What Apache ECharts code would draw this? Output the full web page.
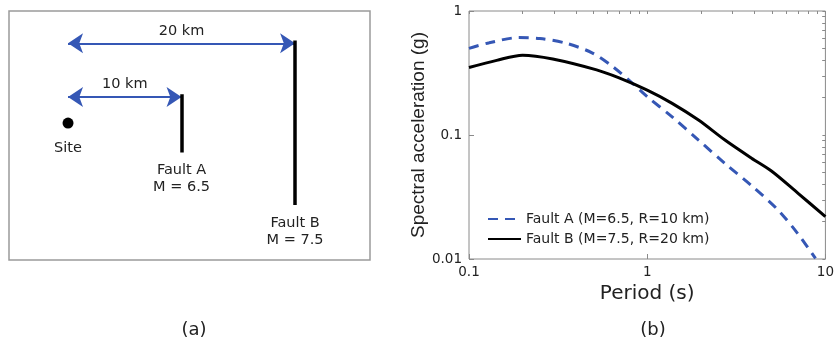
<!DOCTYPE html>
<html>
<head>
<meta charset="utf-8">
<script src="https://cdn.jsdelivr.net/npm/echarts@6/dist/echarts.min.js"></script>
<style>
  html, body { margin: 0; padding: 0; background: #fff; }
  #chart { width: 837px; height: 342px; }
</style>
</head>
<body>
<div id="chart"></div>
<script>
// (b) spectral acceleration curves
const periodA = [0.1, 0.13, 0.19, 0.25, 0.35, 0.49, 0.64, 0.83, 1, 1.38, 1.94, 2.73, 3.85, 5.4, 7.0, 8.8]
const saA = [0.50, 0.555, 0.61, 0.60, 0.55, 0.46, 0.356, 0.26, 0.204, 0.14, 0.091, 0.059, 0.039, 0.025, 0.016, 0.0101]
const periodB = [0.1, 0.143, 0.2, 0.295, 0.52, 0.69, 1, 1.38, 1.94, 2.73, 3.85, 5.0, 7.0, 10]
const saB = [0.35, 0.40, 0.44, 0.41, 0.335, 0.29, 0.23, 0.18, 0.132, 0.091, 0.065, 0.051, 0.034, 0.022]
const seriesNames = ["Fault A (M=6.5, R=10 km)", "Fault B (M=7.5, R=20 km)"]

const xMajor = [0.1, 1, 10]
const xMinor = [0.2, 0.3, 0.4, 0.5, 0.6, 0.7, 0.8, 0.9, 2, 3, 4, 5, 6, 7, 8, 9]
const yMajor = [0.01, 0.1, 1]
const yMinor = [0.02, 0.03, 0.04, 0.05, 0.06, 0.07, 0.08, 0.09, 0.2, 0.3, 0.4, 0.5, 0.6, 0.7, 0.8, 0.9]

// (a) site / fault sketch, in km
const sitePos = [0, 12.1]
const faultNames = ["Fault A", "Fault B"]
const faultMags = [6.5, 7.5]
const faultDist = [10, 20]
const faultTop = [14.65, 19.4]
const faultBottom = [9.5, 4.85]

// the source figure is a bit wide, DejaVu gets the text widths closest
const font = "DejaVu Sans, Verdana, sans-serif"
const fontTall = "Liberation Sans, Arial, Helvetica, sans-serif"
const ink = "#222"
const blue = "#3557b5"
const frame = "#8a8a8a"

const chart = echarts.init(document.getElementById("chart"), null, { renderer: "canvas" })

const minorAxis = (extra) => Object.assign({
  gridIndex: 1,
  type: "log",
  logBase: 10,
  axisLine: { show: false },
  axisLabel: { show: false },
  splitLine: { show: false },
}, extra)

const option = {
  animation: false,
  textStyle: { fontFamily: font },
  grid: [
    { left: 9, top: 11, width: 361, height: 249, show: true, borderColor: "#9a9a9a", borderWidth: 1.5 },
    { left: 469, top: 11, right: 9, bottom: 83, show: true, borderColor: frame, borderWidth: 1 },
  ],
  legend: {
    data: seriesNames,
    orient: "vertical",
    left: 487,
    top: 212,
    padding: 0,
    itemWidth: 33,
    itemHeight: 14,
    itemGap: 6,
    itemStyle: { opacity: 0 },
    textStyle: { fontSize: 14, color: ink, fontFamily: font },
  },
  xAxis: [
    { gridIndex: 0, type: "value", min: -5.2, max: 26.6, show: false },
    {
      gridIndex: 1,
      type: "log",
      logBase: 10,
      min: 0.1,
      max: 10,
      name: "Period (s)",
      nameLocation: "middle",
      nameGap: 25,
      nameTextStyle: { fontSize: 20, color: ink, fontFamily: font },
      axisLine: { show: false },
      axisTick: { inside: true, length: 5, lineStyle: { color: frame } },
      axisLabel: { fontSize: 13.5, color: ink, margin: 6, fontFamily: font },
      splitLine: { show: false },
    },
    minorAxis({ min: 0.1, max: 10, axisTick: { inside: true, length: 3, customValues: xMinor, lineStyle: { color: frame } } }),
    minorAxis({ min: 0.1, max: 10, position: "top", axisTick: { inside: true, length: 3, customValues: xMinor.concat(xMajor), lineStyle: { color: frame } } }),
  ],
  yAxis: [
    { gridIndex: 0, type: "value", min: 0, max: 22, show: false },
    {
      gridIndex: 1,
      type: "log",
      logBase: 10,
      min: 0.01,
      max: 1,
      name: "Spectral acceleration (g)",
      nameLocation: "middle",
      nameGap: 40,
      nameTextStyle: { fontSize: 19, color: ink, fontFamily: fontTall },
      axisLine: { show: false },
      axisTick: { inside: true, length: 5, lineStyle: { color: frame } },
      axisLabel: { fontSize: 13.5, color: ink, margin: 7, fontFamily: font },
      splitLine: { show: false },
    },
    minorAxis({ min: 0.01, max: 1, axisTick: { inside: true, length: 3, customValues: yMinor, lineStyle: { color: frame } } }),
    minorAxis({ min: 0.01, max: 1, position: "right", axisTick: { inside: true, length: 3, customValues: yMinor.concat(yMajor), lineStyle: { color: frame } } }),
  ],
  series: [
    // sketch: distance arrows
    {
      type: "lines",
      coordinateSystem: "cartesian2d",
      xAxisIndex: 0,
      yAxisIndex: 0,
      symbol: ["arrow", "arrow"],
      symbolSize: 15,
      lineStyle: { color: blue, width: 2, opacity: 1, curveness: 0 },
      label: {
        show: true,
        position: "insideMiddleTop",
        distance: 5,
        fontSize: 14.5,
        color: ink,
        formatter: (p) => p.name,
      },
      data: faultDist.map((d, i) => ({
        name: d + " km",
        coords: [[sitePos[0], faultTop[i] - 0.25], [d, faultTop[i] - 0.25]],
      })),
    },
    // sketch: faults
    {
      type: "lines",
      coordinateSystem: "cartesian2d",
      xAxisIndex: 0,
      yAxisIndex: 0,
      symbol: "none",
      lineStyle: { color: "#000", width: 3.5, opacity: 1 },
      data: faultDist.map((d, i) => ({ coords: [[d, faultTop[i]], [d, faultBottom[i]]] })),
    },
    {
      type: "scatter",
      xAxisIndex: 0,
      yAxisIndex: 0,
      symbolSize: 1,
      itemStyle: { color: "rgba(0,0,0,0)", opacity: 1 },
      label: {
        show: true,
        position: "bottom",
        distance: 9,
        fontSize: 14.5,
        lineHeight: 17,
        color: ink,
        formatter: (p) => faultNames[p.dataIndex] + "\nM = " + faultMags[p.dataIndex],
      },
      data: faultDist.map((d, i) => [d, faultBottom[i]]),
    },
    // sketch: site
    {
      type: "scatter",
      xAxisIndex: 0,
      yAxisIndex: 0,
      symbolSize: 11,
      itemStyle: { color: "#000", opacity: 1 },
      label: { show: true, position: "bottom", distance: 12, fontSize: 14.5, color: ink, formatter: "Site" },
      data: [sitePos],
    },
    // spectra
    {
      name: seriesNames[0],
      type: "line",
      xAxisIndex: 1,
      yAxisIndex: 1,
      smooth: 0.3,
      symbol: "none",
      lineStyle: { color: blue, width: 3, type: [10, 7] },
      itemStyle: { color: blue },
      data: periodA.map((t, i) => [t, saA[i]]),
    },
    {
      name: seriesNames[1],
      type: "line",
      xAxisIndex: 1,
      yAxisIndex: 1,
      smooth: 0.3,
      symbol: "none",
      lineStyle: { color: "#000", width: 3 },
      itemStyle: { color: "#000" },
      data: periodB.map((t, i) => [t, saB[i]]),
    },
  ],
  graphic: [
    { type: "text", style: { text: "(a)", x: 194, y: 330, align: "center", verticalAlign: "middle", fontSize: 18, fontFamily: font, fill: ink } },
    { type: "text", style: { text: "(b)", x: 653, y: 330, align: "center", verticalAlign: "middle", fontSize: 18, fontFamily: font, fill: ink } },
  ],
}

chart.setOption(option)
</script>
</body>
</html>
